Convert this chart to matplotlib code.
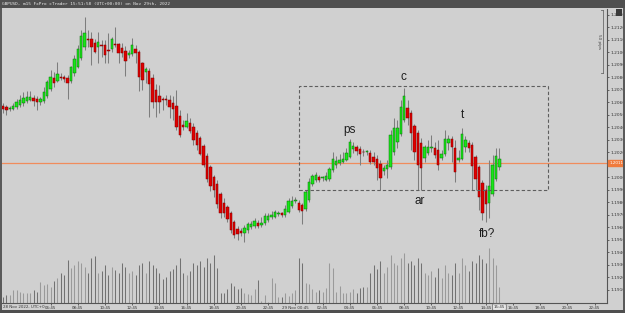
import matplotlib
matplotlib.use('Agg')
import matplotlib.pyplot as plt
from matplotlib.patches import Rectangle
import matplotlib.transforms as mtransforms
import numpy as np

# ---------------- data (GBPUSD m15) ----------------
opens = [1.20570, 1.20562, 1.20546, 1.20546, 1.20562, 1.20578, 1.20594, 1.20610, 1.20618, 1.20634,
         1.20626, 1.20602, 1.20610, 1.20650, 1.20706, 1.20794, 1.20770, 1.20802, 1.20802, 1.20794,
         1.20770, 1.20834, 1.20882, 1.20954, 1.21042, 1.21106, 1.21106, 1.21074, 1.21042, 1.21058,
         1.21058, 1.21018, 1.21026, 1.21066, 1.21066, 1.21034, 1.21010, 1.20978, 1.20986, 1.21026,
         1.21002, 1.20914, 1.20842, 1.20850, 1.20794, 1.20698, 1.20650, 1.20626, 1.20626, 1.20618,
         1.20594, 1.20570, 1.20490, 1.20418, 1.20402, 1.20434, 1.20402, 1.20354, 1.20314, 1.20250,
         1.20170, 1.20082, 1.20002, 1.19946, 1.19866, 1.19794, 1.19762, 1.19714, 1.19642, 1.19586,
         1.19570, 1.19554, 1.19578, 1.19602, 1.19610, 1.19634, 1.19618, 1.19634, 1.19658, 1.19682,
         1.19682, 1.19706, 1.19714, 1.19698, 1.19722, 1.19770, 1.19810, 1.19794, 1.19778, 1.19746,
         1.19818, 1.19946, 1.19978, 1.20002, 1.19994, 1.19978, 1.19986, 1.20058, 1.20098, 1.20114,
         1.20122, 1.20138, 1.20162, 1.20226, 1.20242, 1.20226, 1.20202, 1.20202, 1.20194, 1.20162,
         1.20146, 1.20106, 1.20050, 1.20066, 1.20082, 1.20202, 1.20282, 1.20346, 1.20458, 1.20554,
         1.20514, 1.20410, 1.20354, 1.20274, 1.20154, 1.20194, 1.20234, 1.20234, 1.20218, 1.20154,
         1.20186, 1.20274, 1.20306, 1.20234, 1.20138, 1.20146, 1.20242, 1.20274, 1.20258, 1.20162,
         1.20082, 1.19954, 1.19898, 1.19794, 1.19866, 1.19986, 1.20082]
highs = [1.20594, 1.20578, 1.20570, 1.20594, 1.20626, 1.20658, 1.20682, 1.20690, 1.20690, 1.20658,
         1.20650, 1.20642, 1.20722, 1.20778, 1.20858, 1.20842, 1.20922, 1.20834, 1.20818, 1.20818,
         1.20890, 1.20978, 1.21058, 1.21178, 1.21282, 1.21178, 1.21162, 1.21106, 1.21162, 1.21098,
         1.21098, 1.21154, 1.21122, 1.21202, 1.21074, 1.21074, 1.21050, 1.21018, 1.21114, 1.21058,
         1.21018, 1.20922, 1.20882, 1.20874, 1.20826, 1.20746, 1.20738, 1.20642, 1.20658, 1.20658,
         1.20650, 1.20698, 1.20538, 1.20458, 1.20514, 1.20474, 1.20434, 1.20378, 1.20330, 1.20266,
         1.20194, 1.20098, 1.20018, 1.19978, 1.19882, 1.19834, 1.19778, 1.19730, 1.19658, 1.19610,
         1.19594, 1.19618, 1.19642, 1.19650, 1.19674, 1.19658, 1.19682, 1.19714, 1.19714, 1.19730,
         1.19738, 1.19730, 1.19722, 1.19778, 1.19834, 1.19850, 1.19842, 1.19818, 1.19794, 1.19898,
         1.19994, 1.20026, 1.20042, 1.20018, 1.20010, 1.20042, 1.20082, 1.20202, 1.20170, 1.20186,
         1.20202, 1.20234, 1.20306, 1.20282, 1.20258, 1.20250, 1.20226, 1.20218, 1.20218, 1.20202,
         1.20178, 1.20138, 1.20098, 1.20138, 1.20378, 1.20474, 1.20458, 1.20618, 1.20714, 1.20618,
         1.20538, 1.20426, 1.20378, 1.20314, 1.20258, 1.20298, 1.20338, 1.20282, 1.20298, 1.20218,
         1.20378, 1.20338, 1.20330, 1.20298, 1.20218, 1.20394, 1.20330, 1.20298, 1.20282, 1.20178,
         1.20098, 1.19978, 1.19938, 1.20138, 1.20178, 1.20234, 1.20234]
lows = [1.20514, 1.20498, 1.20530, 1.20538, 1.20546, 1.20562, 1.20570, 1.20594, 1.20610, 1.20570,
        1.20538, 1.20578, 1.20594, 1.20634, 1.20690, 1.20722, 1.20762, 1.20778, 1.20762, 1.20626,
        1.20754, 1.20810, 1.20874, 1.20938, 1.21018, 1.21042, 1.20898, 1.20994, 1.20914, 1.20962,
        1.20914, 1.20914, 1.21002, 1.21042, 1.20914, 1.20962, 1.20810, 1.20954, 1.20970, 1.20914,
        1.20690, 1.20698, 1.20754, 1.20482, 1.20554, 1.20482, 1.20514, 1.20538, 1.20578, 1.20474,
        1.20458, 1.20378, 1.20322, 1.20378, 1.20394, 1.20354, 1.20258, 1.20218, 1.20178, 1.20082,
        1.19962, 1.19890, 1.19842, 1.19754, 1.19674, 1.19682, 1.19642, 1.19554, 1.19514, 1.19498,
        1.19530, 1.19482, 1.19554, 1.19586, 1.19594, 1.19594, 1.19602, 1.19618, 1.19642, 1.19666,
        1.19674, 1.19690, 1.19682, 1.19682, 1.19714, 1.19754, 1.19794, 1.19722, 1.19626, 1.19730,
        1.19802, 1.19930, 1.19962, 1.19962, 1.19970, 1.19970, 1.19970, 1.20042, 1.20074, 1.20098,
        1.20114, 1.20130, 1.20154, 1.20194, 1.20178, 1.20098, 1.20170, 1.20178, 1.20106, 1.20098,
        1.19978, 1.19898, 1.20018, 1.19994, 1.20066, 1.20178, 1.20234, 1.20330, 1.20442, 1.20418,
        1.20218, 1.20138, 1.19898, 1.19898, 1.20122, 1.20178, 1.20202, 1.20154, 1.20058, 1.20138,
        1.20170, 1.20218, 1.20122, 1.19962, 1.20122, 1.20138, 1.20202, 1.20202, 1.19898, 1.19898,
        1.19738, 1.19658, 1.19642, 1.19674, 1.19850, 1.19970, 1.20058]
closes = [1.20546, 1.20538, 1.20554, 1.20570, 1.20602, 1.20618, 1.20634, 1.20642, 1.20642, 1.20610,
          1.20602, 1.20626, 1.20682, 1.20762, 1.20802, 1.20754, 1.20826, 1.20794, 1.20786, 1.20754,
          1.20882, 1.20946, 1.21026, 1.21130, 1.21154, 1.21098, 1.21042, 1.21002, 1.21082, 1.21050,
          1.20978, 1.21010, 1.21106, 1.21058, 1.20994, 1.20994, 1.20930, 1.20994, 1.21058, 1.20994,
          1.20802, 1.20778, 1.20866, 1.20746, 1.20602, 1.20602, 1.20602, 1.20618, 1.20618, 1.20562,
          1.20546, 1.20402, 1.20338, 1.20402, 1.20450, 1.20370, 1.20298, 1.20258, 1.20186, 1.20098,
          1.19986, 1.19930, 1.19898, 1.19786, 1.19714, 1.19714, 1.19666, 1.19578, 1.19538, 1.19546,
          1.19554, 1.19594, 1.19626, 1.19626, 1.19650, 1.19610, 1.19634, 1.19690, 1.19690, 1.19698,
          1.19722, 1.19708, 1.19698, 1.19746, 1.19810, 1.19810, 1.19812, 1.19738, 1.19730, 1.19882,
          1.19962, 1.20010, 1.20018, 1.19978, 1.19996, 1.20010, 1.20066, 1.20146, 1.20130, 1.20138,
          1.20146, 1.20194, 1.20282, 1.20250, 1.20210, 1.20186, 1.20200, 1.20204, 1.20122, 1.20122,
          1.20074, 1.19994, 1.20074, 1.20098, 1.20338, 1.20394, 1.20394, 1.20562, 1.20650, 1.20474,
          1.20354, 1.20202, 1.20098, 1.20074, 1.20242, 1.20242, 1.20236, 1.20178, 1.20098, 1.20186,
          1.20306, 1.20306, 1.20242, 1.20042, 1.20154, 1.20346, 1.20298, 1.20234, 1.20090, 1.19986,
          1.19842, 1.19714, 1.19786, 1.19930, 1.20098, 1.20170, 1.20146]
volumes = [150, 200, 200, 325, 325, 275, 250, 250, 250, 325, 275, 525, 450, 475, 400,
           550, 625, 750, 700, 1075, 875, 950, 1050, 1000, 900, 750, 1125, 1175, 750, 800, 950,
           700, 900, 825, 750, 1000, 900, 750, 800, 700, 950, 1000, 750, 1050, 950, 875,
           750, 600, 650, 800, 850, 950, 1125, 750, 700, 800, 1000, 950, 1050, 900, 1125, 1000, 1200, 875,
           250, 250, 350, 500, 425, 350, 375, 250, 225, 200, 350, 575, 50, 200, 25, 625, 500, 150, 150,
           250, 175, 250, 325, 1125, 1000,
           500, 475, 350, 275, 325, 275, 375, 1000, 875, 275, 425, 250, 250, 275, 350, 250, 375, 400, 400,
           750, 950, 850, 1050, 750, 900, 1200, 1000, 950, 1125, 1250, 1000, 1050, 950, 1125, 1000, 750,
           700, 800, 650, 875, 625, 950, 750, 700, 1000, 750, 1125, 950, 800, 1050, 1000, 1200, 1100,
           1000, 1375, 1125, 950, 400]
first_time_label = "28 Nov 2022, UTC+0"
time_labels = ["06:45", "08:45", "10:45", "12:45", "14:45", "16:45", "18:45", "20:45", "22:45",
               "29 Nov 00:45", "02:45", "04:45", "06:45", "08:45", "10:45", "12:45", "14:45",
               "16:45", "18:45", "20:45", "22:45"]
price_ticks = [1.1910, 1.1920, 1.1930, 1.1940, 1.1950, 1.1960, 1.1970, 1.1980, 1.1990, 1.2000,
               1.2020, 1.2030, 1.2040, 1.2050, 1.2060, 1.2070, 1.2080, 1.2090, 1.2100,
               1.2110, 1.2120, 1.2130]
current_price = 1.20114
current_time_label = "15:45"
title = "GBPUSD, m15 FxPro cTrader 15:51:58 (UTC+00:00) on Nov 29th, 2022"
wyckoff_labels = ["ps", "c", "t", "ar", "fb?"]

# ---------------- figure ----------------
W, H = 625, 313
BG = '#d0d0d0'
fig = plt.figure(figsize=(W / 100, H / 100), dpi=100, facecolor=BG)


def prect(x0, y0, x1, y1):
    return [x0 / W, 1 - y1 / H, (x1 - x0) / W, (y1 - y0) / H]


def fig_box(x0, y0, x1, y1, color):
    fig.add_artist(Rectangle((x0 / W, 1 - y1 / H), (x1 - x0) / W, (y1 - y0) / H,
                             transform=fig.transFigure, facecolor=color, edgecolor='none', zorder=5))


n = len(opens)
idx = np.arange(n)
o = np.array(opens); c = np.array(closes); hi = np.array(highs); lo = np.array(lows)
up = c >= o

axes_rect = prect(2, 9, 607, 303)
axv = fig.add_axes(axes_rect)
axv.set_axis_off()
ax = fig.add_axes(axes_rect, sharex=axv)
ax.patch.set_alpha(0)

ax.set_xlim(-1 / 3.4, 604 / 3.4)
ax.set_ylim(1.18994, 1.21346)

# volumes
vcols = np.where(up, '#9a9a9a', '#727272')
axv.vlines(idx, 0, volumes, colors=vcols, linewidth=0.75)
axv.set_ylim(0, 7350)

# price line
ax.axhline(current_price, color='#f08c5c', lw=0.9, zorder=1)

# candles
ax.vlines(idx, lo, hi, colors='#7d7d7d', linewidth=0.75, zorder=2)
bottoms = np.minimum(o, c)
heights = np.maximum(np.abs(c - o), 0.00005)
ax.bar(idx, heights, bottom=bottoms, width=0.7,
       color=np.where(up, '#19e619', '#e00000'),
       edgecolor=np.where(up, '#0a6e0a', '#7a0000'), linewidth=0.35, zorder=3)

# annotations: rectangle and labels
ax.add_patch(Rectangle((87.06, 1.19898), 73.2, 0.00832, fill=False, edgecolor='#5e5e5e',
                       linewidth=0.8, linestyle=(0, (3, 2)), zorder=4))
label_pos = [(101.8, 1.20378), (117.9, 1.20802), (135.0, 1.20498), (122.6, 1.19810), (142.4, 1.19546)]
for txt, (lx, ly) in zip(wyckoff_labels, label_pos):
    ax.text(lx, ly, txt, ha='center', va='center', fontsize=8.5, color='#1e1e1e',
            family='Liberation Sans', zorder=5)

# 50 pips bracket
ax.plot([176.5, 176.5], [1.20838, 1.21338], color='#6a6a6a', lw=0.6, zorder=4)
ax.plot([176.0, 176.5], [1.21338, 1.21338], color='#6a6a6a', lw=0.6, zorder=4)
ax.plot([176.0, 176.5], [1.20838, 1.20838], color='#6a6a6a', lw=0.6, zorder=4)
ax.text(175.2, 1.21088, '50 pips', rotation=-90, ha='center', va='center', fontsize=3,
        color='#444444')

# axes styling
for s in ['top', 'left']:
    ax.spines[s].set_visible(False)
for s in ['right', 'bottom']:
    ax.spines[s].set_color('#555555')
    ax.spines[s].set_linewidth(0.8)
ax.yaxis.tick_right()
ax.set_yticks(price_ticks)
ax.set_yticklabels([f'{v:.4f}' for v in price_ticks])
ax.tick_params(axis='y', labelsize=3.2, colors='#333333', length=1.5, width=0.5, pad=1)
xt = [14 + 8 * k for k in range(len(time_labels))]
ax.set_xticks(xt)
ax.set_xticklabels(time_labels)
ax.tick_params(axis='x', labelsize=2.9, colors='#333333', length=1.5, width=0.5, pad=0.8)
fig.text(3 / W, 1 - 307 / H, first_time_label, fontsize=2.9, color='#333333', ha='left', va='center')

# current price tag
bt = mtransforms.blended_transform_factory(ax.transAxes, ax.transData)
ax.text(1.004, current_price, f'{current_price:.5f}', transform=bt, ha='left', va='center',
        fontsize=3.0, color='white', clip_on=False, zorder=6,
        bbox=dict(boxstyle='square,pad=0.35', fc='#f07a3c', ec='#f07a3c'))
bt2 = mtransforms.blended_transform_factory(ax.transData, ax.transAxes)
ax.text(n - 1, -0.014, current_time_label, transform=bt2, ha='center', va='center',
        fontsize=2.9, color='#333333', clip_on=False, zorder=6,
        bbox=dict(boxstyle='round,pad=0.3', fc='#e6e6e6', ec='#666666', lw=0.5))

# frame bars
fig_box(0, 0, 625, 8, '#4f4f4f')
fig_box(0, 310, 625, 313, '#4f4f4f')
fig_box(0, 8, 2, 310, '#5a5a5a')
fig_box(623, 8, 625, 310, '#5a5a5a')
fig_box(616, 9, 622, 16, '#3a3a3a')
fig.text(2 / W, 1 - 4 / H, title, fontsize=3.2, family='DejaVu Sans Mono', color='#e8e8e8',
         ha='left', va='center', zorder=6)

fig.savefig('out.png', dpi=100, facecolor=BG)
